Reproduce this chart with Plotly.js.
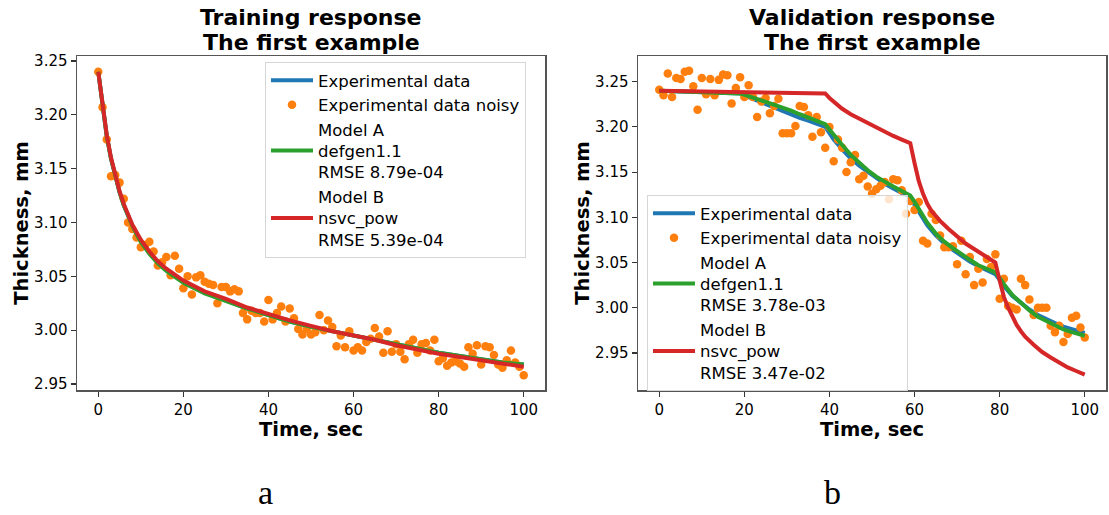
<!DOCTYPE html>
<html>
<head>
<meta charset="utf-8">
<script src="https://cdn.plot.ly/plotly-3.0.1.min.js"></script>
<style>html,body{margin:0;padding:0;background:#fff;}#chart{width:1109px;height:515px;}</style>
</head>
<body>
<div id="chart"></div>
<script>
// ---------- DATA ----------
const time = [0,1,2,3,4,5,6,7,8,9,10,11,12,13,14,15,16,17,18,19,20,21,22,23,24,25,26,27,28,29,30,31,32,33,34,35,36,37,38,39,40,41,42,43,44,45,46,47,48,49,50,51,52,53,54,55,56,57,58,59,60,61,62,63,64,65,66,67,68,69,70,71,72,73,74,75,76,77,78,79,80,81,82,83,84,85,86,87,88,89,90,91,92,93,94,95,96,97,98,99,100];

// Training (left)
const trainNoisy = [3.240,3.207,3.177,3.143,3.144,3.137,3.122,3.100,3.094,3.086,3.077,3.079,3.082,3.073,3.060,3.063,3.068,3.051,3.069,3.057,3.039,3.050,3.033,3.049,3.051,3.045,3.043,3.042,3.025,3.040,3.040,3.036,3.038,3.036,3.016,3.010,3.018,3.016,3.016,3.008,3.028,3.010,3.016,3.022,3.008,3.020,3.011,3.001,2.996,3.001,2.996,2.998,3.014,3.000,3.009,3.003,2.985,2.995,2.984,2.999,2.981,2.984,2.981,2.989,2.992,3.002,2.994,2.979,2.999,2.980,2.987,2.980,2.973,2.987,2.991,2.979,2.987,2.988,2.981,2.991,2.971,2.974,2.967,2.970,2.971,2.969,2.966,2.984,2.978,2.986,2.968,2.985,2.984,2.977,2.968,2.965,2.972,2.981,2.970,2.966,2.958];
const trainCurveTime = [0,1,2,3,4,5,6,7,8,9,10,12,14,16,18,20,25,30,35,40,45,50,55,60,65,70,75,80,85,90,95,100];
const trainExp    = [3.240,3.207,3.180,3.159,3.142,3.128,3.116,3.106,3.097,3.090,3.083,3.072,3.063,3.056,3.050,3.045,3.035,3.027,3.020,3.014,3.008,3.003,2.999,2.995,2.991,2.987,2.983,2.979,2.976,2.973,2.970,2.968];
const trainModelA = [3.240,3.207,3.180,3.159,3.142,3.128,3.116,3.106,3.097,3.089,3.082,3.071,3.062,3.055,3.049,3.044,3.034,3.027,3.020,3.014,3.008,3.003,2.999,2.995,2.991,2.987,2.983,2.979,2.976,2.973,2.970,2.968];
const trainModelB = [3.240,3.207,3.181,3.160,3.143,3.129,3.117,3.107,3.098,3.091,3.084,3.073,3.064,3.057,3.051,3.046,3.036,3.029,3.021,3.015,3.009,3.004,2.999,2.995,2.991,2.986,2.982,2.978,2.975,2.972,2.969,2.966];

// Validation (right)
const validNoisy = [3.241,3.235,3.259,3.233,3.254,3.253,3.261,3.262,3.245,3.219,3.254,3.236,3.253,3.235,3.252,3.258,3.257,3.226,3.243,3.255,3.233,3.246,3.233,3.211,3.228,3.232,3.215,3.223,3.231,3.193,3.193,3.193,3.201,3.223,3.222,3.213,3.189,3.211,3.194,3.177,3.200,3.162,3.186,3.177,3.150,3.161,3.169,3.142,3.146,3.134,3.126,3.131,3.135,3.139,3.120,3.142,3.141,3.130,3.104,3.118,3.108,3.117,3.074,3.071,3.104,3.097,3.080,3.067,3.067,3.068,3.048,3.074,3.037,3.056,3.025,3.043,3.028,3.054,3.045,3.059,3.010,3.032,3.002,3.000,2.998,3.032,3.025,3.009,2.992,3.000,3.000,3.000,2.980,2.973,2.980,2.962,2.971,2.989,2.991,2.978,2.967];
const validExpTime = [0,5,10,15,19,21,23,25,27,29,31,33,35,37,39,40,41,43,45,47,49,51,53,55,57,59,60,61,62,63,65,67,69,71,73,75,77,79,80,81,83,85,87,89,91,93,95,97,100];
const validExp    = [3.240,3.239,3.238,3.238,3.237,3.233,3.229,3.225,3.221,3.217,3.214,3.210,3.207,3.203,3.200,3.193,3.186,3.175,3.165,3.157,3.150,3.143,3.137,3.132,3.127,3.122,3.114,3.106,3.098,3.091,3.080,3.071,3.064,3.057,3.051,3.046,3.041,3.037,3.031,3.024,3.013,3.005,2.998,2.992,2.987,2.983,2.979,2.976,2.972];
const validModelA = [3.240,3.239,3.238,3.238,3.237,3.234,3.231,3.228,3.225,3.221,3.218,3.214,3.210,3.207,3.203,3.197,3.191,3.180,3.169,3.160,3.152,3.145,3.139,3.134,3.129,3.124,3.117,3.109,3.101,3.094,3.082,3.073,3.066,3.059,3.053,3.047,3.043,3.039,3.033,3.026,3.014,3.005,2.997,2.990,2.985,2.980,2.976,2.973,2.969];
const validBTime  = [0,10,20,30,39,40,41,43,45,47,49,51,53,55,57,59,60,61,62,63,64,66,68,70,72,74,76,78,79,80,81,82,83,84,85,86,88,90,92,94,96,98,100];
const validModelB = [3.240,3.239,3.239,3.238,3.237,3.232,3.228,3.220,3.214,3.209,3.204,3.199,3.195,3.190,3.186,3.182,3.160,3.140,3.126,3.115,3.107,3.096,3.087,3.079,3.071,3.065,3.059,3.053,3.050,3.030,3.012,3.000,2.990,2.981,2.974,2.968,2.959,2.951,2.945,2.939,2.934,2.930,2.926];

const yTicks = [2.95,3.00,3.05,3.10,3.15,3.20,3.25];
const xTicks = [0,20,40,60,80,100];
const names = {
  exp: 'Experimental data',
  noisy: 'Experimental data noisy',
  trainA: 'Model A<br>defgen1.1<br>RMSE 8.79e-04',
  trainB: 'Model B<br>nsvc_pow<br>RMSE 5.39e-04',
  validA: 'Model A<br>defgen1.1<br>RMSE 3.78e-03',
  validB: 'Model B<br>nsvc_pow<br>RMSE 3.47e-02'
};

// ---------- STYLE ----------
const C = {blue:'#1f77b4', orange:'#ff7f0e', green:'#2ca02c', red:'#d62728'};
const FONT = 'DejaVu Sans, Verdana, sans-serif';
const LW = 4;
const W = 1109, H = 515;
const px = v => v / W, py = v => 1 - v / H;

function lineTrace(x, y, name, color, xa, ya, leg) {
  return {x, y, name, type:'scatter', mode:'lines', line:{color, width:LW}, xaxis:xa, yaxis:ya, legend:leg, hoverinfo:'skip'};
}
function dotTrace(x, y, name, xa, ya, leg) {
  return {x, y, name, type:'scatter', mode:'markers', marker:{color:C.orange, size:8.5}, xaxis:xa, yaxis:ya, legend:leg, hoverinfo:'skip'};
}

const traces = [
  lineTrace(trainCurveTime, trainExp, names.exp, C.blue, 'x', 'y', 'legend'),
  dotTrace(time, trainNoisy, names.noisy, 'x', 'y', 'legend'),
  lineTrace(trainCurveTime, trainModelA, names.trainA, C.green, 'x', 'y', 'legend'),
  lineTrace(trainCurveTime, trainModelB, names.trainB, C.red, 'x', 'y', 'legend'),
  lineTrace(validExpTime, validExp, names.exp, C.blue, 'x2', 'y2', 'legend2'),
  dotTrace(time, validNoisy, names.noisy, 'x2', 'y2', 'legend2'),
  lineTrace(validExpTime, validModelA, names.validA, C.green, 'x2', 'y2', 'legend2'),
  lineTrace(validBTime, validModelB, names.validB, C.red, 'x2', 'y2', 'legend2')
];

function xAxis(domain, anchor) {
  return {domain, anchor, range:[-5,105], tickvals:xTicks, ticks:'outside', ticklen:5, tickwidth:1.2, tickcolor:'#333',
    showline:true, mirror:true, linecolor:'#555', linewidth:1.5, showgrid:false, zeroline:false, automargin:true,
    tickfont:{family:FONT, size:15, color:'#000'},
    title:{text:'<b>Time, sec</b>', font:{family:FONT, size:19.5, color:'#000'}, standoff:1}};
}
function yAxis(domain, anchor, range) {
  return {domain, anchor, range, tickvals:yTicks, tickformat:'.2f', ticks:'outside', ticklen:5, tickwidth:1.2, tickcolor:'#333',
    showline:true, mirror:true, linecolor:'#555', linewidth:1.5, showgrid:false, zeroline:false,
    tickfont:{family:FONT, size:15, color:'#000'},
    title:{text:'<b>Thickness, mm</b>', font:{family:FONT, size:19.5, color:'#000'}, standoff:0}};
}

const legendBase = {xanchor:'left', yanchor:'top', bgcolor:'rgba(255,255,255,0.8)', bordercolor:'#d6d6d6', borderwidth:1,
  font:{family:FONT, size:16.5, color:'#000'}, tracegroupgap:0, itemwidth:42};

function ann(text, x, y, size, family, bold) {
  return {text: bold ? '<b>'+text+'</b>' : text, x:px(x), y:py(y), xref:'paper', yref:'paper', xanchor:'center', yanchor:'middle',
    showarrow:false, font:{family, size, color:'#000'}};
}

const layout = {
  width:W, height:H, margin:{l:0, r:0, t:0, b:0}, paper_bgcolor:'#fff', plot_bgcolor:'#fff', showlegend:true,
  xaxis: xAxis([px(77), px(545)], 'y'),
  yaxis: yAxis([py(390), py(56)], 'x', [2.9444, 3.2546]),
  xaxis2: xAxis([px(638), px(1106)], 'y2'),
  yaxis2: yAxis([py(390), py(56)], 'x2', [2.909, 3.2784]),
  legend: Object.assign({}, legendBase, {x:px(265), y:py(62)}),
  legend2: Object.assign({}, legendBase, {x:px(647), y:py(195)}),
  annotations: [
    ann('Training response', 311, 17, 22, FONT, true),
    ann('The first example', 311, 42, 22, FONT, true),
    ann('Validation response', 872, 17, 22, FONT, true),
    ann('The first example', 872, 42, 22, FONT, true),
    ann('a', 265, 492, 34, 'Liberation Serif, Times New Roman, serif', false),
    ann('b', 832, 492, 34, 'Liberation Serif, Times New Roman, serif', false)
  ]
};

Plotly.newPlot('chart', traces, layout, {displayModeBar:false, staticPlot:true});
</script>
</body>
</html>
